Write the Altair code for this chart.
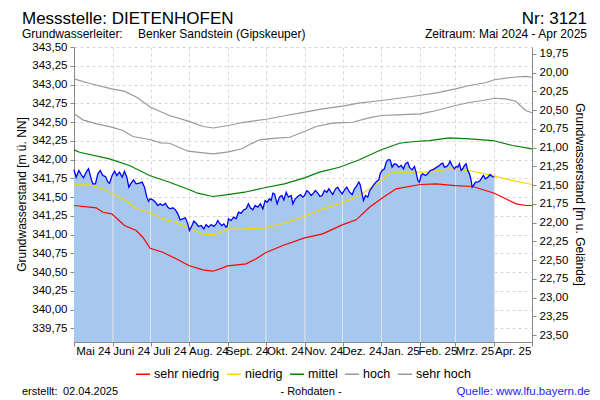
import altair as alt
import numpy as np
import pandas as pd

# ---------------- data ----------------
START = "2024-05-01"

blue_day = [0, 1.7, 3.9, 5.7, 7.6, 9.7, 11.6, 13.7, 15, 17.1, 19, 20.9, 23, 25.1, 27, 28.3, 30.4, 32.3, 34.1, 36.3,
            38.4, 40.2, 42.1, 43.7, 45.5, 47.4, 49.5, 52.2, 54.3, 56.2, 58, 59.4, 60.7, 62.8, 64.9, 66.8, 68.7, 70.8,
            72.9, 74.8, 76.6, 78.8, 80.9, 82.7, 84.6, 86.7, 88.8, 90.7,
            92.0, 93.4, 95.5, 97.3, 99.2, 101.3, 103.5, 105.3, 107.2, 109.3, 111.4, 113.3, 114.6, 115.9, 117.8, 119.4,
            121.2, 122.0, 123.1, 125.2, 127.3, 129.2, 131.1, 133.2, 135.3, 137.2, 139.0, 140.6, 142.5, 144.4, 146.5,
            148.6, 150.5, 152.3, 153.9, 155.8, 157.1, 158.5, 159.8, 161.9, 163.7, 165.6, 167.2, 169.1, 170.9, 173.1,
            174.4, 176.3, 178.4, 180.5, 182.4, 183.7,
            185.5, 187.1, 189.0, 190.8, 192.4, 194.3, 196.1, 197.7, 199.6, 201.5, 203.1, 204.9, 206.2, 208.4, 210.2,
            211.6, 213.7, 215.6, 217.4, 219.6, 221.7, 223.5, 225.4, 227.0, 228.0, 229.6, 230.7, 232.3, 234.1, 235.5,
            237.6, 239.5, 241.3, 242.9, 244.0, 245.6, 247.4, 248.8, 250.1, 252.0, 253.5, 255.4, 257.2, 258.8, 260.7,
            262.6, 264.1, 266.0,
            267.3, 269.5, 271.3, 272.6, 274.0, 275.3, 276.6, 277.9, 280.1, 281.9, 283.8, 285.4, 287.2, 289.1, 291.2,
            292.6, 293.9, 295.2, 297.1, 298.7, 299.7, 301.3, 303.2, 304.5, 305.8, 307.2, 308.5, 309.8, 311.2, 312.5,
            313.8, 315.2, 316.5, 317.3, 318.3, 319.9, 321.8, 323.6, 325.3, 326.3, 327.9, 329.8, 331.6, 333.2, 335.0]
blue_val = [341.862, 341.764, 341.853, 341.800, 341.756, 341.831, 341.876, 341.742, 341.676, 341.676,
            341.809, 341.853, 341.787, 341.773, 341.698, 341.684, 341.787, 341.844, 341.787, 341.831,
            341.764, 341.844, 341.764, 341.631, 341.684, 341.729, 341.676, 341.684, 341.698, 341.631,
            341.498, 341.444, 341.476, 341.462, 341.431, 341.387, 341.409, 341.387, 341.418, 341.364,
            341.342, 341.356, 341.329, 341.276, 341.196, 341.209, 341.222, 341.142,
            341.053, 341.098, 341.178, 341.151, 341.107, 341.120, 341.076, 341.133, 341.098, 341.133,
            341.107, 341.142, 341.187, 341.151, 341.120, 341.142, 341.098, 341.107, 341.209, 341.187,
            341.231, 341.209, 341.298, 341.284, 341.329, 341.342, 341.409, 341.356, 341.329, 341.387,
            341.364, 341.409, 341.342, 341.453, 341.431, 341.476, 341.453, 341.551, 341.542, 341.409,
            341.498, 341.520, 341.462, 341.564, 341.498, 341.520, 341.409, 341.476, 341.507, 341.533,
            341.498, 341.520,
            341.587, 341.564, 341.520, 341.551, 341.587, 341.551, 341.507, 341.520, 341.587, 341.564,
            341.609, 341.564, 341.533, 341.609, 341.631, 341.587, 341.542, 341.596, 341.631, 341.564,
            341.533, 341.609, 341.653, 341.698, 341.667, 341.542, 341.453, 341.520, 341.498, 341.578,
            341.631, 341.676, 341.711, 341.729, 341.809, 341.853, 341.876, 341.964, 341.996, 341.996,
            341.898, 341.942, 341.933, 341.898, 341.920, 341.876, 341.942, 341.964,
            341.898, 341.862, 341.907, 341.831, 341.720, 341.698, 341.787, 341.809, 341.787, 341.809,
            341.853, 341.862, 341.876, 341.898, 341.920, 341.942, 341.951, 341.898, 341.907, 341.942,
            341.978, 341.920, 341.876, 341.907, 341.898, 341.942, 341.853, 341.876, 341.920, 341.942,
            341.853, 341.809, 341.720, 341.631, 341.653, 341.698, 341.698, 341.720, 341.764, 341.787,
            341.742, 341.764, 341.800, 341.773, 341.764]

sehr_hoch_day = [0, 12, 30, 40, 50, 61, 76, 91, 103, 111, 123, 134, 153, 169, 184, 198, 214, 227, 245, 262, 276,
                 289, 304, 315, 328, 335, 350, 360, 365]
sehr_hoch_val = [343.076, 343.017, 342.942, 342.911, 342.831, 342.697, 342.587, 342.511, 342.440, 342.420,
                 342.453, 342.493, 342.537, 342.587, 342.631, 342.676, 342.711, 342.751, 342.787, 342.823,
                 342.857, 342.889, 342.942, 342.987, 343.023, 343.063, 343.097, 343.107, 343.097]

hoch_day = [0, 7, 18, 30, 39, 47, 61, 69, 76, 91, 103, 111, 123, 134, 141, 148, 161, 172, 184, 193, 206, 214, 222,
            235, 245, 257, 276, 289, 304, 315, 326, 335, 344, 352, 360, 365]
hoch_val = [342.609, 342.529, 342.476, 342.431, 342.387, 342.307, 342.263, 342.223, 342.217, 342.111, 342.089,
            342.076, 342.103, 342.143, 342.209, 342.263, 342.284, 342.297, 342.377, 342.440, 342.484, 342.493,
            342.497, 342.556, 342.587, 342.596, 342.609, 342.653, 342.720, 342.760, 342.787, 342.817, 342.809,
            342.777, 342.653, 342.623]

mittel_day = [0, 4.4, 28.3, 44.2, 60.2, 76.1, 92, 98.6, 110.6, 122.5, 135.9, 151.8, 167.7, 183.7, 195.6, 211.6,
              227.5, 243.4, 259.4, 271.3, 283.3, 299.2, 315.1, 333.7, 349.6, 365]
mittel_val = [342.129, 342.097, 342.009, 341.920, 341.787, 341.697, 341.596, 341.551, 341.507, 341.533, 341.564,
              341.623, 341.676, 341.756, 341.831, 341.897, 341.996, 342.120, 342.217, 342.240, 342.253, 342.289,
              342.276, 342.253, 342.187, 342.143]

niedrig_day = [0, 12.4, 23, 30.9, 41.6, 49.6, 60.2, 70.8, 81.4, 90.7, 96, 104, 112, 122.5, 135.9, 151.8, 167.7,
               182.3, 195.6, 211.6, 227.5, 243.4, 251.4, 254, 267.3, 283.3, 299.2, 315.1, 331.1, 347, 365]
niedrig_val = [341.663, 341.663, 341.609, 341.543, 341.453, 341.343, 341.297, 341.209, 341.164, 341.089, 341.053,
               341.000, 341.000, 341.071, 341.076, 341.089, 341.151, 341.231, 341.329, 341.409, 341.520, 341.697,
               341.809, 341.831, 341.831, 341.831, 341.876, 341.853, 341.796, 341.729, 341.667]

sehr_niedrig_day = [0, 17.7, 23, 30.1, 40.2, 49.6, 54.8, 60.7, 70.8, 81.4, 91.5, 102.6, 110.6, 118.6, 122.5, 137.2,
                    145.2, 152.6, 166.4, 183.7, 198.2, 213.7, 224.9, 235.5, 244.8, 256.7, 275.9, 288.6, 303.7,
                    317.8, 335, 352.4, 360.3, 365]
sehr_niedrig_val = [341.387, 341.356, 341.297, 341.276, 341.120, 341.053, 340.964, 340.817, 340.764, 340.676,
                    340.587, 340.529, 340.511, 340.556, 340.583, 340.609, 340.676, 340.756, 340.853, 340.956,
                    341.009, 341.129, 341.196, 341.364, 341.476, 341.609, 341.667, 341.676, 341.653, 341.640,
                    341.551, 341.409, 341.387, 341.387]

categories = ["sehr niedrig", "niedrig", "mittel", "hoch", "sehr hoch"]
cat_colors = ["#FF0000", "#F5D800", "#008000", "#999999", "#999999"]

month_labels = ["Mai 24", "Juni 24", "Juli 24", "Aug. 24", "Sept. 24", "Okt. 24", "Nov. 24", "Dez. 24",
                "Jan. 25", "Feb. 25", "Mrz. 25", "Apr. 25"]
y_ticks = [339.75, 340.00, 340.25, 340.50, 340.75, 341.00, 341.25, 341.50, 341.75, 342.00, 342.25, 342.50,
           342.75, 343.00, 343.25, 343.50]
depth_ticks = [19.75, 20.00, 20.25, 20.50, 20.75, 21.00, 21.25, 21.50, 21.75, 22.00, 22.25, 22.50, 22.75,
               23.00, 23.25, 23.50]
GROUND = 363.16          # Geländehöhe (m ü. NN)
Y_MIN, Y_MAX = 339.567, 343.50

# ---------------- build tables ----------------
t0 = pd.Timestamp(START)


def to_dates(days):
    return t0 + pd.to_timedelta(np.array(days, dtype=float), unit="D")


blue = pd.DataFrame({"date": to_dates(blue_day), "level": blue_val})

stat_parts = []
for cat, d, v in [("sehr hoch", sehr_hoch_day, sehr_hoch_val), ("hoch", hoch_day, hoch_val),
                  ("mittel", mittel_day, mittel_val), ("niedrig", niedrig_day, niedrig_val),
                  ("sehr niedrig", sehr_niedrig_day, sehr_niedrig_val)]:
    stat_parts.append(pd.DataFrame({"date": to_dates(d), "level": v, "Kategorie": cat}))
stats = pd.concat(stat_parts, ignore_index=True)

month_starts = pd.date_range("2024-05-01", "2025-05-01", freq="MS")
mid_months = [month_starts[i] + (month_starts[i + 1] - month_starts[i]) / 2 for i in range(12)]
months = pd.DataFrame({"date": mid_months, "label": month_labels})

inner_starts = [m for m in month_starts[1:] if (m - t0).days <= max(blue_day)]
inner_days = [(m - t0).days for m in inner_starts]
month_rules = pd.DataFrame({"date": inner_starts,
                            "level": np.interp(inner_days, blue_day, blue_val)})

# ---------------- chart ----------------
W, H = 458, 295
FONT = "Liberation Sans"
AX = "#888888"
GRID = "#D8D8D8"
comma = "replace(format(datum.value, '.2f'), '.', ',')"

xscale = alt.Scale(domain=[alt.DateTime(year=2024, month=5, date=1), alt.DateTime(year=2025, month=5, date=1)],
                   nice=False)
xaxis = alt.Axis(values=[alt.DateTime(year=m.year, month=m.month, date=1) for m in month_starts],
                 labels=False, tickSize=4, tickColor=AX, domainColor=AX, grid=True, gridColor=GRID,
                 gridDash=[3, 3], title=None)
yscale = alt.Scale(domain=[Y_MIN, Y_MAX], nice=False, zero=False)
yaxis = alt.Axis(values=y_ticks, labelExpr=comma, tickSize=4, tickColor=AX, domainColor=AX, grid=True,
                 gridColor=GRID, gridDash=[3, 3], labelFontSize=11.5, labelPadding=3, title=None,
                 labelColor="black", labelOverlap=False, labelBound=False, labelFlush=False)

X = alt.X("date:T", scale=xscale, axis=xaxis)
Y = alt.Y("level:Q", scale=yscale, axis=yaxis)

area = alt.Chart(blue).mark_area(color="#A6C8EE").encode(x=X, y=Y, y2=alt.datum(Y_MIN))

rules = alt.Chart(month_rules).mark_rule(color="#E4E4E4", strokeWidth=1).encode(x=X, y=Y, y2=alt.datum(Y_MIN))

stat_lines = alt.Chart(stats).mark_line(strokeWidth=1.2, interpolate="linear").encode(
    x=X, y=Y,
    color=alt.Color("Kategorie:N",
                    scale=alt.Scale(domain=categories, range=cat_colors),
                    legend=alt.Legend(orient="none", legendX=61, legendY=319, direction="horizontal",
                                      title=None, symbolType="stroke", symbolSize=196, symbolStrokeWidth=1.5,
                                      labelFontSize=12.5, labelFont=FONT, labelOffset=3, columnPadding=4,
                                      labelColor="black")),
    detail="Kategorie:N")

blue_line = alt.Chart(blue).mark_line(color="#0000FF", strokeWidth=1.3).encode(x=X, y=Y)

month_text = alt.Chart(months).mark_text(fontSize=11.5, baseline="middle", align="center", color="black").encode(
    x=X, y=alt.value(H + 10), text="label:N")


def label(text, x, y, size=12, align="left", color="black", baseline="alphabetic", angle=0):
    return alt.Chart(alt.Data(values=[{"t": text}])).mark_text(
        align=align, baseline=baseline, fontSize=size, color=color, angle=angle, font=FONT
    ).encode(x=alt.value(x), y=alt.value(y), text="t:N")


texts = [
    label("Messstelle: DIETENHOFEN", -52, -23.5, size=17),
    label("Nr: 3121", 513, -23.5, size=17, align="right"),
    label("Grundwasserleiter:", -52, -9, size=12),
    label("Benker Sandstein (Gipskeuper)", 64, -9, size=12),
    label("Zeitraum: Mai 2024 - Apr 2025", 513, -9, size=12, align="right"),
    label("Grundwasserstand [m ü. NN]", -52, H / 2, size=12, align="center", baseline="middle", angle=270),
    label("Grundwasserstand [m u. Gelände]", W + 48, H / 2, size=12, align="center", baseline="middle", angle=90),
    label("erstellt:", -52, 345, size=11, baseline="middle"),
    label("02.04.2025", -11, 345, size=11, baseline="middle"),
    label("- Rohdaten -", 237, 345, size=11, align="center", baseline="middle"),
    label("Quelle: www.lfu.bayern.de", 516, 345, size=11.5, align="right", baseline="middle", color="#1A1AFF"),
]

main = alt.layer(area, rules, stat_lines, blue_line, month_text, *texts)

right = alt.Chart(blue).mark_line(opacity=0).transform_calculate(
    depth=f"{GROUND} - datum.level"
).encode(
    x=X,
    y=alt.Y("depth:Q",
            scale=alt.Scale(domain=[GROUND - Y_MAX, GROUND - Y_MIN], reverse=True, nice=False, zero=False),
            axis=alt.Axis(orient="right", values=depth_ticks, labelExpr=comma, tickSize=4, tickColor=AX,
                          domainColor=AX, grid=False, labelFontSize=11.5, labelPadding=3, title=None,
                          labelColor="black", labelOverlap=False, labelBound=False, labelFlush=False)))

chart = alt.layer(main, right).resolve_scale(y="independent").properties(
    width=W, height=H,
    autosize=alt.AutoSizeParams(type="none"),
    padding={"left": 66, "top": 39, "right": 60, "bottom": 58},
).configure(font=FONT).configure_view(stroke=None).configure_axis(labelOverlap=False)

chart.save("out.html", embed_options={"renderer": "svg", "actions": False})
